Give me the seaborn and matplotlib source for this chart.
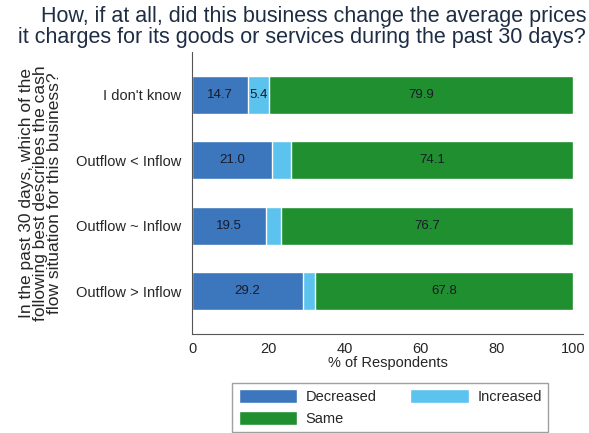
import pandas as pd
import seaborn as sns
import matplotlib.pyplot as plt
import numpy as np

categories = ["I don't know", "Outflow < Inflow", "Outflow ~ Inflow", "Outflow > Inflow"]
decreased = [14.7, 21.0, 19.5, 29.2]
increased = [5.4, 4.9, 3.8, 3.0]
same = [79.9, 74.1, 76.7, 67.8]

sns.set_style("white")
plt.rcParams['font.family'] = ['Liberation Sans', 'DejaVu Sans']

df = pd.DataFrame({"cat": categories, "Decreased": decreased,
                   "Increased": increased, "Same": same})
df["c_dec"] = df["Decreased"]
df["c_inc"] = df["Decreased"] + df["Increased"]
df["c_same"] = df["c_inc"] + df["Same"]

c_dec = "#3c77bd"
c_inc = "#5bc3ee"
c_same = "#1f8f2f"

fig = plt.figure(figsize=(5.89, 4.33), dpi=100)
ax = fig.add_axes([0.326, 0.229, 0.664, 0.651])

# stacked bars: draw cumulative totals, longest first
sns.barplot(data=df, x="c_same", y="cat", orient="h", color=c_same,
            width=0.58, ax=ax, label="Same", saturation=1)
sns.barplot(data=df, x="c_inc", y="cat", orient="h", color=c_inc,
            width=0.58, ax=ax, label="Increased", saturation=1)
sns.barplot(data=df, x="c_dec", y="cat", orient="h", color=c_dec,
            width=0.58, ax=ax, label="Decreased", saturation=1)

for i, row in df.iterrows():
    ax.text(row["Decreased"] / 2, i, f"{row['Decreased']:.1f}", ha="center",
            va="center", fontsize=9.5, color="#1a1a2a")
    if row["Increased"] >= 5:
        ax.text(row["c_dec"] + row["Increased"] / 2, i, f"{row['Increased']:.1f}",
                ha="center", va="center", fontsize=9.5, color="#1a1a2a")
    ax.text(row["c_inc"] + row["Same"] / 2, i, f"{row['Same']:.1f}", ha="center",
            va="center", fontsize=9.5, color="#1a1a2a")

ax.set_xlim(0, 102.6)
ax.set_ylim(3.65, -0.65)
ax.set_xticks([0, 20, 40, 60, 80, 100])
ax.tick_params(axis="x", labelsize=10.5, length=4, color="#555555", pad=2)
ax.tick_params(axis="y", labelsize=10.5, length=0, pad=8)
ax.set_xlabel("% of Respondents", fontsize=10.5, labelpad=0)
ax.set_ylabel("In the past 30 days, which of the\nfollowing best describes the cash\nflow situation for this business?",
              fontsize=12.5, linespacing=0.9, labelpad=10)
for s in ["top", "right"]:
    ax.spines[s].set_visible(False)
for s in ["left", "bottom"]:
    ax.spines[s].set_color("#555555")
    ax.spines[s].set_linewidth(0.8)

fig.text(0.995, 0.985,
         "How, if at all, did this business change the average prices\nit charges for its goods or services during the past 30 days?",
         ha="right", va="top", ma="right", fontsize=15.5, color="#1f2d44",
         linespacing=1.0)

handles, labels = ax.get_legend_handles_labels()
if ax.get_legend():
    ax.get_legend().remove()
# column-major fill: Decreased, Same | Increased
order = [labels.index("Decreased"), labels.index("Same"), labels.index("Increased")]
fig.legend([handles[k] for k in order], [labels[k] for k in order],
           loc="upper left", bbox_to_anchor=(0.394, 0.116), ncol=2,
           fontsize=10.5, frameon=True, fancybox=False, edgecolor="#888888",
           handlelength=4.0, handleheight=1.1, columnspacing=2.3,
           handletextpad=0.6, borderpad=0.45, labelspacing=0.45, borderaxespad=0)

fig.savefig("out.png", dpi=100)
